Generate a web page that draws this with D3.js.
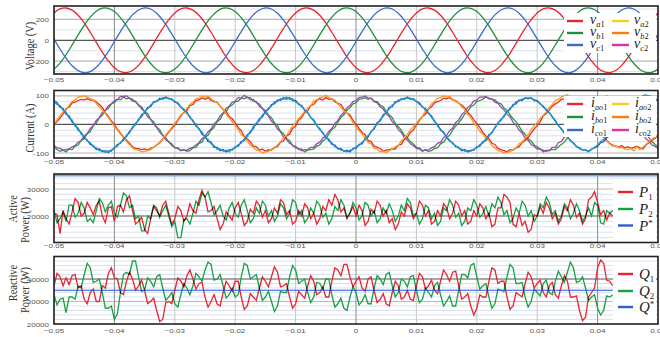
<!DOCTYPE html>
<html><head><meta charset="utf-8">
<script src="https://cdn.jsdelivr.net/npm/d3@7"></script>
<style>body{margin:0;background:#fff}svg{display:block}</style>
</head><body><svg id="c" width="660" height="337"></svg>
<script>
// ---------- DATA ----------
const xTicks = [-0.05,-0.04,-0.03,-0.02,-0.01,0,0.01,0.02,0.03,0.04,0.05];
const vTicks = [200,0,-200];
const iTicks = [100,0,-100];
const pTicks = [30000,20000];
const qTicks = [40000,30000,20000];

// voltages, 1 ms step from -0.05 s
const vA1 = [263,301,310,289,240,167,77,-20,-114,-198,-263,-301,-310,-289,-240,-167,-77,20,114,198,
263,301,310,289,240,167,77,-20,-114,-198,-263,-301,-310,-289,-240,-167,-77,20,114,198,
263,301,310,289,240,167,77,-20,-114,-198,-263,-301,-310,-289,-240,-167,-77,20,114,198,
263,301,310,289,240,167,77,-20,-114,-198,-263,-301,-310,-289,-240,-167,-77,20,114,198,
263,301,310,289,240,167,77,-20,-114,-198,-263,-301,-310,-289,-240,-167,-77,20,114,198,263];
const vB1 = [-276,-218,-138,-45,52,144,222,279,308,307,276,218,138,45,-52,-144,-222,-279,-308,-307,
-276,-218,-138,-45,52,144,222,279,308,307,276,218,138,45,-52,-144,-222,-279,-308,-307,
-276,-218,-138,-45,52,144,222,279,308,307,276,218,138,45,-52,-144,-222,-279,-308,-307,
-276,-218,-138,-45,52,144,222,279,308,307,276,218,138,45,-52,-144,-222,-279,-308,-307,
-276,-218,-138,-45,52,144,222,279,308,307,276,218,138,45,-52,-144,-222,-279,-308,-307,-276];
const vC1 = [13,-84,-172,-244,-291,-311,-300,-259,-193,-108,-13,84,172,244,291,311,300,259,193,108,
13,-84,-172,-244,-291,-311,-300,-259,-193,-108,-13,84,172,244,291,311,300,259,193,108,
13,-84,-172,-244,-291,-311,-300,-259,-193,-108,-13,84,172,244,291,311,300,259,193,108,
13,-84,-172,-244,-291,-311,-300,-259,-193,-108,-13,84,172,244,291,311,300,259,193,108,
13,-84,-172,-244,-291,-311,-300,-259,-193,-108,-13,84,172,244,291,311,300,259,193,108,13];

// currents, 0.5 ms step from -0.05 s
const iA1 = [0,10,22,36,55,60,76,78,84,88,86,90,85,86,79,70,60,40,28,12,
0,-16,-30,-44,-55,-66,-78,-84,-85,-88,-86,-90,-84,-80,-72,-64,-52,-40,-28,-14,
-2,14,30,42,50,66,70,84,86,93,88,94,84,80,78,64,52,46,28,20,
6,-10,-22,-42,-50,-60,-76,-78,-90,-86,-94,-88,-90,-80,-78,-62,-58,-40,-34,-14,
-6,16,24,42,48,66,70,84,90,86,94,88,90,80,74,70,54,40,34,14,
0,-14,-28,-36,-56,-60,-76,-80,-84,-94,-90,-88,-86,-86,-72,-70,-52,-46,-28,-20,
-1,14,28,36,54,62,76,80,84,92,90,94,86,84,74,68,58,42,32,16,
4,-10,-28,-40,-50,-66,-70,-84,-88,-92,-96,-88,-90,-82,-78,-64,-56,-46,-30,-16,
-4,10,30,38,50,64,72,78,88,90,94,88,86,84,72,64,58,40,28,14,
-8,-22,-40,-56,-66,-72,-76,-80,-74,-82,-78,-84,-80,-76,-82,-86,-72,-64,-56,-48,-40];
const iA2 = [2,16,30,44,50,68,80,86,96,98,100,96,92,84,74,62,50,38,24,8,
-6,-20,-34,-46,-60,-70,-82,-88,-90,-96,-94,-92,-88,-80,-70,-62,-50,-36,-24,-10,
4,18,34,40,56,70,78,90,92,98,96,100,90,82,76,64,54,36,22,10,
-4,-18,-36,-44,-58,-72,-80,-90,-92,-100,-96,-94,-86,-84,-72,-60,-46,-38,-22,-6,
6,20,32,46,58,66,82,86,94,96,102,94,90,86,72,60,48,40,26,6,
-8,-22,-32,-48,-62,-68,-84,-86,-96,-94,-98,-92,-86,-78,-74,-58,-48,-34,-20,-8,
4,18,28,48,56,72,80,92,94,100,96,98,88,80,76,62,52,34,24,4,
-6,-24,-34,-50,-56,-74,-82,-92,-94,-100,-98,-96,-88,-82,-68,-62,-46,-36,-18,-4,
6,22,32,44,60,70,84,88,96,100,104,92,92,82,70,58,44,30,16,0,
-14,-30,-46,-58,-68,-76,-74,-82,-80,-86,-88,-84,-92,-78,-88,-80,-70,-60,-52,-44,-36];
const iB1 = [-80,-88,-94,-90,-96,-86,-88,-76,-72,-56,-50,-32,-26,-4,4,24,32,50,56,72,
76,88,86,96,90,92,82,82,66,62,44,38,18,10,-10,-18,-38,-46,-62,-68,
-82,-84,-92,-88,-94,-92,-82,-80,-66,-62,-44,-38,-20,-10,10,18,38,44,62,68,
80,82,92,90,96,86,88,76,72,56,50,32,24,6,-4,-24,-32,-50,-56,-74,
-76,-88,-86,-96,-90,-88,-86,-76,-72,-58,-50,-34,-18,-10,8,24,34,50,58,72,
76,88,90,94,88,92,82,80,68,62,46,34,24,4,-8,-20,-38,-46,-60,-68,
-80,-82,-92,-90,-94,-92,-84,-82,-68,-62,-46,-38,-20,-6,6,20,36,46,62,68,
80,84,88,96,92,88,86,76,72,58,50,34,20,10,-6,-24,-34,-50,-58,-72,
-78,-86,-90,-94,-90,-88,-88,-78,-70,-62,-48,-34,-24,-8,8,20,34,50,58,70,
76,86,88,92,94,88,86,78,70,58,48,38,20,8,-6,-20,-36,-46,-60,-70,-78];
const iB2 = [-74,-82,-84,-90,-88,-86,-78,-74,-62,-56,-40,-32,-14,-4,14,24,42,50,66,72,
84,88,98,98,100,92,88,78,70,54,46,28,18,0,-10,-28,-38,-54,-60,-74,
-80,-82,-90,-90,-90,-84,-80,-72,-64,-50,-42,-26,-16,2,12,30,40,56,64,78,
82,94,92,102,94,94,82,80,64,56,40,30,12,2,-16,-26,-44,-52,-66,-72,
-82,-84,-92,-88,-88,-80,-80,-68,-62,-48,-40,-24,-14,4,14,32,42,58,66,80,
84,94,96,100,92,92,80,76,62,54,38,28,10,0,-18,-28,-46,-54,-68,-74,
-84,-86,-94,-88,-90,-82,-78,-66,-62,-46,-38,-22,-12,6,16,34,44,60,68,82,
86,96,96,98,90,90,78,74,60,52,36,26,8,-2,-20,-30,-48,-56,-70,-76,
-86,-86,-96,-90,-92,-80,-80,-64,-60,-44,-36,-18,-10,8,18,36,46,62,70,82,
86,94,94,100,92,88,78,72,58,50,34,24,6,-4,-22,-32,-50,-58,-72,-76,-84];
const iC1 = [84,76,60,56,36,30,8,0,-20,-28,-48,-54,-70,-74,-88,-86,-96,-92,-98,-90,
-84,-70,-66,-50,-42,-24,-14,4,14,34,40,60,62,80,80,92,88,96,90,90,
78,76,62,50,44,24,14,-6,-14,-34,-40,-60,-62,-80,-80,-92,-88,-96,-88,-90,
-78,-76,-60,-56,-36,-30,-8,0,20,26,46,52,70,72,86,84,94,88,94,84,
84,70,66,50,42,24,16,-4,-18,-28,-46,-52,-70,-72,-86,-84,-94,-90,-96,-84,
-84,-70,-68,-50,-44,-24,-16,6,12,34,40,60,62,80,80,90,88,96,88,90,
80,76,60,56,38,30,10,0,-20,-26,-46,-58,-64,-78,-80,-92,-88,-96,-90,-90,
-78,-76,-60,-56,-36,-30,-10,4,18,28,46,52,70,72,86,84,94,90,94,84,
84,72,64,50,42,26,14,-4,-14,-32,-42,-58,-64,-78,-82,-90,-88,-94,-86,-82,
-76,-64,-60,-46,-40,-22,-16,4,10,32,40,58,64,78,84,92,96,100,96,92,84];
const iC2 = [78,70,66,50,44,22,16,-6,-12,-34,-40,-58,-64,-78,-82,-92,-90,-98,-92,-94,
-80,-76,-62,-56,-38,-30,-8,-2,20,26,46,54,68,76,84,86,94,92,92,86,
82,72,60,54,38,28,10,2,-18,-26,-46,-52,-68,-74,-86,-86,-94,-90,-96,-86,
-82,-70,-66,-50,-42,-24,-16,6,12,34,40,58,64,80,80,90,88,96,88,90,
78,74,62,52,40,26,12,-4,-14,-32,-42,-58,-64,-78,-82,-90,-92,-96,-90,-88,
-78,-74,-62,-54,-38,-28,-10,0,18,28,44,54,68,74,86,86,92,92,92,86,
82,70,64,50,42,24,14,-6,-16,-30,-44,-54,-68,-74,-84,-86,-94,-92,-94,-86,
-82,-70,-66,-50,-42,-26,-14,6,14,32,42,58,64,80,82,90,90,94,90,88,
80,74,60,54,40,28,10,-2,-18,-28,-46,-54,-68,-76,-86,-88,-90,-96,-88,-80,
-72,-60,-52,-40,-28,-18,-6,6,16,30,46,60,70,84,92,100,104,96,98,90,82];

// active power, 0.5 ms step from -0.05 s to 0.0425 s
const p1 = [21000,20500,13500,22000,19000,17000,21500,26500,25000,20000,21000,25000,23000,20500,24000,25500,20000,17500,23000,23500,
18000,23500,24000,21500,26000,27500,22000,17000,18000,19500,15000,13500,19000,23500,22000,20000,24000,25500,21000,17000,
19000,23500,22000,18000,20000,24500,22000,21000,26000,29500,27000,21500,22000,23500,19000,15000,17000,21500,20000,18500,
23000,25000,21000,16500,18000,22500,21000,25500,24000,19500,22000,17500,19000,23000,21000,26000,25000,20500,22000,17000,
18000,22000,20000,24500,23000,19000,21000,17000,19000,23500,22000,26000,24000,28000,26000,21500,23000,19000,21000,23500,
20000,24000,22000,16500,18000,22500,21000,25500,24000,20000,22000,17500,19000,15000,17000,21500,20000,24500,23000,19000,
21000,25500,24000,20000,22000,17000,18000,22000,20000,24500,23000,19000,21000,25500,24000,20000,22000,17000,18000,22000,
20000,24500,23000,19000,21000,16000,17000,23000,23000,28000,27000,25000,17000,16000,21000,16500,18000,14000,15000,20500,
20000,23500,21000,25000,23000,19000,21000,17000,19000,23500,22000,26000,24000,19500,21000,17000,19000,26000,27000,29000,
25000,20500,22000,18500,21000,20000];
const p2 = [22000,17500,19000,21500,18000,24000,24000,19500,21000,25000,23000,18000,19000,17500,22000,26500,25000,21500,24000,25500,
21000,19500,24000,28500,27500,23000,24000,19000,20000,14500,14500,20000,19000,24000,23000,19500,22000,24000,20000,16000,
18000,12000,12000,18500,19000,17000,21000,25500,24000,28500,27000,29000,25000,20500,22000,24000,20000,18500,23000,25000,
21000,19500,24000,26000,22000,17500,19000,23000,21000,25500,24000,20000,22000,18000,20000,24500,23000,19000,21000,26000,
25000,20500,22000,17500,19000,23000,21000,25500,24000,19500,21000,17000,19000,23500,22000,26000,24000,19500,21000,25000,
23000,18500,20000,25000,24000,20000,22000,17500,19000,23000,21000,24500,22000,18000,20000,24000,22000,26500,25000,20000,
21000,17000,19000,24000,23000,19000,21000,16500,18000,23000,22000,26000,24000,19500,21000,16500,18000,23000,22000,26000,
24000,19500,21000,23500,20000,24500,23000,27000,25000,20500,22000,17500,19000,23000,21000,25500,24000,20000,22000,18000,
20000,24500,23000,27000,25000,20500,22000,18000,20000,24500,23000,19000,21000,24500,22000,18000,20000,23000,20000,25000,
24000,17500,17000,22000,21000,22000];
const pRefT = [-0.05, 0.05];
const pRef = [35000, 35000];

// reactive power, 0.5 ms step from -0.05 s to 0.0425 s
const q1 = [37000,42500,41000,37000,40500,37500,41500,42000,36000,37000,31000,29000,34000,35500,30000,30000,37000,36000,42500,45000,
40500,40000,34000,33000,39000,43000,40000,35000,37000,39500,35000,29000,30000,31500,26000,21000,22000,29500,30000,29000,
35000,40500,39000,36500,41500,44000,40000,35500,38000,38500,32000,27500,30000,33000,29000,28000,34000,39000,37000,34500,
39000,39000,32000,26500,28000,33500,32000,30500,36000,41000,39000,36500,41000,45500,43000,36500,37000,38000,32000,27000,
29000,34500,33000,31500,37000,41500,39000,33000,34000,36500,32000,32000,39000,45000,44000,41500,46500,46500,41000,36500,
39000,41000,36000,34500,40000,41000,35000,29500,31000,33500,29000,28000,34000,39000,37000,31000,32000,35000,31000,30500,
37000,42500,41000,35500,37000,39500,35000,33500,39000,44000,42000,39000,43000,43500,37000,31000,32000,33500,28000,24000,
27000,33000,32000,32000,39000,45000,44000,38000,39000,39000,32000,26500,28000,34000,33000,32000,38000,43000,41000,36000,
38000,39500,34000,32000,37000,38500,33000,31500,37000,41500,39000,32000,32000,32500,26000,21500,23000,32000,34000,36000,
45000,48500,47000,39500,39000,37000];
const q2 = [33000,28500,31000,31500,25000,32000,32000,31000,37000,36000,42000,47000,45000,38500,39000,40000,34000,27000,27000,28000,
22000,24500,34000,42000,43000,42000,48000,48000,41000,34500,35000,40500,39000,36500,41000,42000,36000,30500,32000,34000,
29000,27500,33000,38000,36000,33000,37000,42500,41000,39000,44000,47500,46500,39500,40000,42000,37000,31500,33000,36000,
32000,33000,41000,47000,46000,40000,41000,42000,36000,30500,32000,34500,30000,25500,28000,34500,34000,34000,41000,46000,
44000,38000,39000,40000,34000,29500,32000,38500,38000,35500,40000,40000,33000,27500,29000,31500,27000,26000,32000,36500,
34000,28500,30000,33000,29000,29000,36000,41500,40000,37500,42000,43000,37000,32000,34000,40000,39000,36500,41000,41500,
35000,29500,31000,36000,34000,32000,37000,38500,33000,28000,30000,32500,28000,28000,35000,42000,42000,40500,46000,47000,
41000,35500,37000,38000,32000,27000,29000,35500,35000,34500,41000,46500,45000,38000,38000,38500,32000,27500,30000,35500,
34000,32500,38000,39500,34000,33000,39000,43500,41000,38500,43000,47500,45000,38500,39000,41000,36000,30500,32000,33000,
27000,24000,26000,32500,32000,33000];
const qRefT = [-0.05, 0.0425];
const qRef = [35000, 35000];

// ---------- DRAW ----------
const tV = d3.range(vA1.length).map(i => -0.05 + i * 0.001);
const tI = d3.range(iA1.length).map(i => -0.05 + i * 0.0005);
const tP = d3.range(p1.length).map(i => -0.05 + i * 0.0005);

const svg = d3.select('#c');
const x = d3.scaleLinear().domain([-0.05, 0.05]).range([54, 658]);
const X0 = 54, X1 = 658;
const fmtX = d => d === 0 ? '0' : d3.format('.2f')(d);

function panel(id, top, bottom, domain, minor, mids, darks, ticks, labelBase) {
  const y = d3.scaleLinear().domain(domain).range([bottom, top]);
  const g = svg.append('g');
  g.append('rect').attr('x', X0).attr('y', top).attr('width', X1 - X0).attr('height', bottom - top).attr('fill', '#fff');
  g.selectAll('.mn').data(minor).enter().append('line')
    .attr('x1', X0).attr('x2', X1).attr('y1', d => y(d)).attr('y2', d => y(d))
    .attr('stroke', '#dbe2ee').attr('stroke-width', 1);
  g.selectAll('.md').data(mids).enter().append('line')
    .attr('x1', X0).attr('x2', X1).attr('y1', d => y(d)).attr('y2', d => y(d))
    .attr('stroke', '#b9b9b9').attr('stroke-width', 1.2);
  g.selectAll('.vx').data(xTicks).enter().append('line')
    .attr('x1', d => x(d)).attr('x2', d => x(d)).attr('y1', top).attr('y2', bottom)
    .attr('stroke', d => (Math.abs(d) > 0.035 && Math.abs(d) < 0.045) || d === 0 ? '#8a8a8a' : '#c6c6c6')
    .attr('stroke-width', 1);
  g.selectAll('.dk').data(darks).enter().append('line')
    .attr('x1', X0).attr('x2', X1).attr('y1', d => y(d)).attr('y2', d => y(d))
    .attr('stroke', '#555').attr('stroke-width', 1.2);
  svg.append('clipPath').attr('id', 'cp' + id).append('rect')
    .attr('x', X0).attr('y', top).attr('width', X1 - X0).attr('height', bottom - top);
  const data = svg.append('g').attr('clip-path', `url(#cp${id})`);
  xTicks.forEach(t => {
    svg.append('text').attr('transform', `translate(${x(t)},${labelBase}) scale(1,0.78)`)
      .attr('text-anchor', 'middle').style('font-family', 'Liberation Sans, Arial, sans-serif')
      .style('font-size', '8px').attr('fill', '#555').text(fmtX(t));
  });
  ticks.forEach(v => {
    svg.append('text').attr('transform', `translate(49,${y(v) + 2.5}) scale(1,0.78)`)
      .attr('text-anchor', 'end').style('font-family', 'Liberation Sans, Arial, sans-serif')
      .style('font-size', '8px').attr('fill', '#555').text(v);
  });
  return { y, data, top, bottom, g };
}
function frame(p) {
  svg.append('rect').attr('x', X0).attr('y', p.top).attr('width', X1 - X0).attr('height', p.bottom - p.top)
    .attr('fill', 'none').attr('stroke', '#222').attr('stroke-width', 1.6);
}
function draw(p, t, vals, color, w, curve, blend) {
  const line = d3.line().x((d, i) => x(t[i])).y(d => p.y(d)).curve(curve || d3.curveLinear);
  const path = p.data.append('path').datum(vals).attr('d', line).attr('fill', 'none')
    .attr('stroke', color).attr('stroke-width', w).attr('stroke-linejoin', 'miter');
  if (blend) path.style('mix-blend-mode', 'multiply');
  return path;
}
function title(lines) {
  lines.forEach(([txt, cx, cy]) => {
    svg.append('text').attr('transform', `translate(${cx},${cy}) scale(1,0.8) rotate(-90)`)
      .attr('text-anchor', 'middle').attr('dominant-baseline', 'central')
      .style('font-family', 'Liberation Serif, Times New Roman, serif').style('font-size', '13px')
      .attr('fill', '#333').text(txt);
  });
}
function legLabel(xp, yp, main, subL, subD, size, sup) {
  const t = svg.append('text').attr('x', xp).attr('y', yp)
    .style('font-family', 'Liberation Serif, Times New Roman, serif').style('font-size', size + 'px').attr('fill', '#222');
  t.append('tspan').style('font-style', 'italic').text(main);
  if (sup) {
    t.append('tspan').attr('dy', -size * 0.35).style('font-size', (size * 0.6) + 'px').text(sup);
  } else {
    if (subL) t.append('tspan').attr('dy', size * 0.22).style('font-size', (size * 0.6) + 'px').style('font-style', 'italic').text(subL);
    t.append('tspan').attr('dy', subL ? 0 : size * 0.22).style('font-size', (size * 0.6) + 'px').text(subD);
  }
}
function legBox(x0, y0, w, h) {
  svg.append('rect').attr('x', x0).attr('y', y0).attr('width', w).attr('height', h).attr('fill', '#fff');
}
function legLine(x0, x1, yy, color) {
  svg.append('line').attr('x1', x0).attr('x2', x1).attr('y1', yy).attr('y2', yy)
    .attr('stroke', color).attr('stroke-width', 2.4);
}

const RED = '#e8262d', GREEN = '#1f8f3c', BLUE = '#3a6bc8';
const YEL = '#f4d21b', ORG = '#f57f17', MAG = '#e4309c';

// Panel 1: voltage
const P1 = panel(1, 6, 74, [-323, 329], [-300, -100, 100, 300], [200, -200], [0], vTicks, 82);
draw(P1, tV, vA1, RED, 1.3, d3.curveCatmullRom);
draw(P1, tV, vB1, GREEN, 1.3, d3.curveCatmullRom);
draw(P1, tV, vC1, BLUE, 1.3, d3.curveCatmullRom);
frame(P1);
legBox(564, 13, 92, 40);
[['a', RED, YEL], ['b', GREEN, ORG], ['c', BLUE, MAG]].forEach(([ph, c1, c2], i) => {
  const yy = 21 + i * 12;
  legLine(567, 583, yy, c1); legLabel(590, yy + 3, 'v', ph, '1', 14);
  legLine(612, 629, yy, c2); legLabel(634, yy + 3, 'v', ph, '2', 14);
});

// Panel 2: current
const P2 = panel(2, 90.5, 158, [-117.5, 119], [-80, -60, -40, -20, 20, 40, 60, 80], [100, -100], [0], iTicks, 164);
draw(P2, tI, iB1, '#2a9a3c', 1.3);
draw(P2, tI, iB2, '#9a48b2', 1.3);
draw(P2, tI, iA1, '#ea2a26', 1.3);
draw(P2, tI, iA2, '#f59c1a', 1.3);
draw(P2, tI, iC1, '#2b4fc0', 1.3);
draw(P2, tI, iC2, '#1d9dc6', 1.3);
frame(P2);
legBox(564, 96, 92, 41);
[['ao', RED, YEL], ['bo', GREEN, ORG], ['co', BLUE, MAG]].forEach(([ph, c1, c2], i) => {
  const yy = 104 + i * 13;
  legLine(567, 583, yy, c1); legLabel(591, yy + 3, 'i', ph, '1', 14);
  legLine(612, 629, yy, c2); legLabel(635, yy + 3, 'i', ph, '2', 14);
});

// Panel 3: active power
const pMinor = d3.range(12000, 35001, 2000).filter(v => v !== 20000 && v !== 30000);
const P3 = panel(3, 174, 242.5, [10185, 35556], pMinor, [30000], [20000], pTicks, 248);
draw(P3, pRefT, pRef, '#7f9ddb', 2);
draw(P3, tP, p1, '#e82430', 1.3);
draw(P3, tP, p2, '#17a045', 1.3, null, true);
frame(P3);
legBox(613, 180, 43, 58);
legLine(618, 633, 192, '#e82430'); legLabel(639, 197, 'P', '', '1', 15);
legLine(618, 633, 209, '#17a045'); legLabel(639, 214, 'P', '', '2', 15);
legLine(618, 633, 225.5, '#2a62d0'); legLabel(639, 231, 'P', '', '', 15, '*');

// Panel 4: reactive power
const qMinor = d3.range(22000, 50000, 2000).filter(v => v !== 30000 && v !== 40000);
const P4 = panel(4, 256.5, 324, [20000, 50000], qMinor, [30000], [40000], qTicks, 333);
draw(P4, tP, q1, '#e82430', 1.3);
draw(P4, tP, q2, '#17a045', 1.3, null, true);
draw(P4, qRefT, qRef, '#2355cf', 1.1);
frame(P4);
legBox(613, 262, 43, 58);
legLine(618, 633, 274, '#e82430'); legLabel(639, 279, 'Q', '', '1', 15);
legLine(618, 633, 291, '#17a045'); legLabel(639, 296, 'Q', '', '2', 15);
legLine(618, 633, 307, '#2a62d0'); legLabel(639, 312, 'Q', '', '', 15, '*');

// titles
title([['Voltage (V)', 30, 46]]);
title([['Current (A)', 30, 128]]);
title([['Active', 13, 209], ['Power (W)', 25, 220]]);
title([['Reactive', 13, 283], ['Power (W)', 25, 290]]);
</script></body></html>
